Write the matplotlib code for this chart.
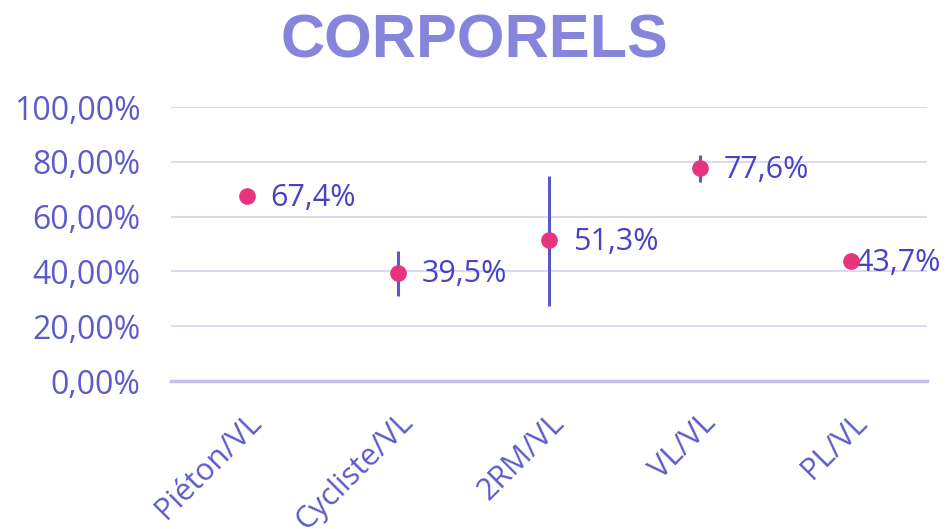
import matplotlib
matplotlib.use("Agg")
import matplotlib.pyplot as plt
import matplotlib.transforms as mtransforms
import numpy as np

# data
categories = ["Piéton/VL", "Cycliste/VL", "2RM/VL", "VL/VL", "PL/VL"]
values = [67.4, 39.5, 51.3, 77.6, 43.7]
err_low = [0.0, 8.5, 23.8, 5.0, 0.0]
err_high = [0.0, 8.0, 23.5, 4.9, 0.0]
labels = ["67,4%", "39,5%", "51,3%", "77,6%", "43,7%"]
yticks = [0, 20, 40, 60, 80, 100]
ytick_labels = ["0,00%", "20,00%", "40,00%", "60,00%", "80,00%", "100,00%"]

pink = "#e8347e"
bar_col = "#5b57c8"
tick_col = "#5d5acb"
lab_col = "#4743c6"

plt.rcParams["font.family"] = ["Open Sans", "DejaVu Sans"]

fig = plt.figure(figsize=(9.48, 5.29), dpi=100)
ax = fig.add_axes([171 / 948, 1 - 381 / 529, 756 / 948, 274 / 529])

x = np.arange(len(categories))
ax.errorbar(x, values, yerr=[err_low, err_high], fmt="none", ecolor=bar_col,
            elinewidth=2.2, capsize=0, zorder=3, clip_on=False)
ax.plot(x, values, "o", color=pink, markersize=11, zorder=4, clip_on=False)

# value labels to the right of each point (last one pushed close, it hits the edge)
offsets = [17, 17, 17, 17, 3]
for xi, v, lab, off in zip(x, values, labels, offsets):
    ax.annotate(lab, (xi, v), xytext=(off, -1), textcoords="offset points",
                ha="left", va="center", fontsize=22, color=lab_col,
                annotation_clip=False)

ax.set_xlim(-0.5, len(categories) - 0.5)
ax.set_ylim(0, 100)
ax.set_yticks(yticks)
ax.set_yticklabels(ytick_labels)
ax.set_xticks(x)
ax.set_xticklabels(categories, rotation=45, ha="right", va="top",
                   rotation_mode="anchor")
offset = mtransforms.ScaledTranslation(-2 / 100, 0, fig.dpi_scale_trans)
for t in ax.get_xticklabels():
    t.set_transform(t.get_transform() + offset)

ax.tick_params(axis="y", length=0, pad=22, labelsize=23, labelcolor=tick_col)
ax.tick_params(axis="x", length=0, pad=19, labelsize=22, labelcolor=tick_col)

ax.grid(axis="y", color="#dcdaf3", linewidth=1.5, zorder=0)
ax.set_axisbelow(True)
for s in ["top", "right", "left"]:
    ax.spines[s].set_visible(False)
ax.spines["bottom"].set_color("#c3c0ec")
ax.spines["bottom"].set_linewidth(2.5)

fig.text(474 / 948, 1 - 42 / 529, "CORPORELS", ha="center", va="center",
         fontsize=44, fontweight="bold", color="#8784dc",
         family=["Liberation Sans", "DejaVu Sans"])

fig.savefig("out.png", dpi=100)
